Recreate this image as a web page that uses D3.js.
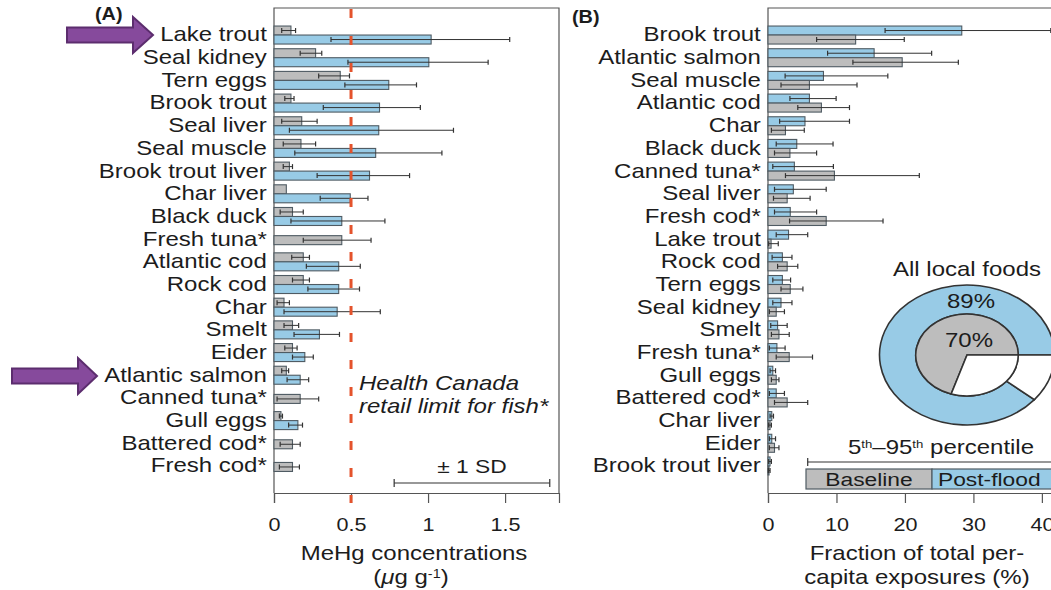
<!DOCTYPE html>
<html>
<head>
<meta charset="utf-8">
<script src="https://cdn.jsdelivr.net/npm/d3@7"></script>
<style>
  html, body { margin: 0; padding: 0; background: #fff; }
  svg { display: block; font-family: "Liberation Sans", Arial, sans-serif; }
</style>
</head>
<body>
<svg id="chart" width="1051" height="590"></svg>
<script>
// ---- Panel A: MeHg concentrations (µg/g) ----
const catsA = ["Lake trout", "Seal kidney", "Tern eggs", "Brook trout", "Seal liver", "Seal muscle",
  "Brook trout liver", "Char liver", "Black duck", "Fresh tuna*", "Atlantic cod", "Rock cod", "Char",
  "Smelt", "Eider", "Atlantic salmon", "Canned tuna*", "Gull eggs", "Battered cod*", "Fresh cod*"];
const baseA    = [0.11, 0.27, 0.43, 0.11, 0.18, 0.175, 0.10, 0.08, 0.12, 0.44, 0.19, 0.19, 0.065, 0.12, 0.12, 0.08, 0.17, 0.045, 0.12, 0.12];
const baseALo  = [0.05, 0.17, 0.29, 0.07, 0.05, 0.06, 0.06, null, 0.04, 0.19, 0.115, 0.12, 0.02, 0.065, 0.07, 0.05, 0.02, 0.035, 0.04, 0.035];
const baseAHi  = [0.14, 0.31, 0.49, 0.13, 0.28, 0.27, 0.12, null, 0.19, 0.63, 0.23, 0.23, 0.10, 0.16, 0.15, 0.095, 0.29, 0.055, 0.17, 0.165];
const postA    = [1.02, 1.005, 0.745, 0.685, 0.68, 0.66, 0.62, 0.495, 0.44, null, 0.42, 0.42, 0.41, 0.295, 0.20, 0.17, null, 0.155, null, null];
const postALo  = [0.37, 0.48, 0.46, 0.32, 0.10, 0.135, 0.28, 0.30, 0.11, null, 0.21, 0.22, 0.065, 0.13, 0.12, 0.085, null, 0.095, null, null];
const postAHi  = [1.53, 1.39, 0.925, 0.95, 1.165, 1.09, 0.88, 0.61, 0.72, null, 0.56, 0.555, 0.69, 0.425, 0.255, 0.225, null, 0.185, null, null];
const ticksA = [0, 0.5, 1, 1.5];
const tickLabelsA = ["0", "0.5", "1", "1.5"];
const limitA = 0.5;            // Health Canada retail limit for fish
const sdBracketA = [0.78, 1.79]; // extent of the "± 1 SD" key bar

// ---- Panel B: fraction of total per-capita exposure (%) ----
const catsB = ["Brook trout", "Atlantic salmon", "Seal muscle", "Atlantic cod", "Char", "Black duck",
  "Canned tuna*", "Seal liver", "Fresh cod*", "Lake trout", "Rock cod", "Tern eggs", "Seal kidney",
  "Smelt", "Fresh tuna*", "Gull eggs", "Battered cod*", "Char liver", "Eider", "Brook trout liver"];
const postB    = [28.3, 15.5, 8.1, 6.05, 5.4, 4.2, 3.85, 3.7, 3.25, 3.0, 2.1, 2.1, 1.9, 1.4, 1.3, 0.7, 1.2, 0.55, 0.55, 0.3];
const postBLo  = [17.1, 8.7, 2.5, 3.2, 1.7, 1.2, 0.7, 0.95, 0.95, 1.2, 0.6, 0.7, 0.7, 0.4, 0.2, 0.3, 0.2, 0.3, 0.2, 0.1];
const postBHi  = [41.3, 23.9, 17.5, 9.95, 11.9, 9.5, 9.55, 8.5, 7.1, 5.8, 3.5, 3.3, 3.5, 2.8, 2.5, 1.1, 2.4, 0.8, 1.1, 0.5];
const baseB    = [12.8, 19.6, 6.05, 7.8, 2.55, 3.2, 9.7, 2.8, 8.5, 0.45, 2.8, 3.25, 1.2, 1.6, 3.1, 1.2, 2.8, 0.3, 0.95, 0.15];
const baseBLo  = [7.1, 12.4, 1.9, 4.35, 0.5, 0.95, 2.55, 0.8, 3.15, 0.1, 1.4, 1.9, 0.2, 0.5, 1.2, 0.5, 0.95, 0.1, 0.2, 0.05];
const baseBHi  = [19.9, 27.8, 13.0, 11.9, 5.3, 7.1, 22.1, 6.15, 16.8, 1.5, 4.35, 5.1, 2.4, 3.1, 6.5, 1.6, 5.8, 0.5, 1.6, 0.3];
const ticksB = [0, 10, 20, 30, 40];
const tickLabelsB = ["0", "10", "20", "30", "40"];
const pctBracketB = [5.8, 45]; // extent of the "5th–95th percentile" key bar

// All local foods share of exposure
const allLocalBaseline = 70;
const allLocalPostFlood = 89;

// ---- styling ----
const SX = 1.2;               // horizontal text stretch
const BLUE = "#98cbe6", GRAY = "#bdbdbd", OUTLINE = "#4f5b63", INK = "#1c1c1c", LINE = "#555", RED = "#e4532c";

const svg = d3.select("#chart");

function text(parent, x, y, str, o = {}) {
  const t = parent.append("text")
    .attr("transform", `translate(${x},${y}) scale(${o.sx || SX},1)`)
    .attr("font-size", o.size || 20)
    .attr("fill", o.fill || INK)
    .attr("text-anchor", o.anchor || "start");
  if (o.italic) t.attr("font-style", "italic");
  if (o.bold) t.attr("font-weight", "bold");
  t.text(str);
  return t;
}

function panel(cfg) {
  const { cats, x, top, bottom, series, ticks, tickLabels, left, right } = cfg;
  const g = svg.append("g");
  const y = d3.scaleBand().domain(cats).range([23.7, 477.3]);
  const bw = y.bandwidth();
  const H = 9;

  // frame
  g.append("path")
    .attr("d", `M${left},${bottom}V${top}H${right}V${bottom}`)
    .attr("fill", "none").attr("stroke", LINE).attr("stroke-width", 1.2);

  // bars + error bars
  cats.forEach((c, i) => {
    const cy = y(c) + bw / 2;
    const present = series.filter(s => s.v[i] != null);
    present.forEach((s, k) => {
      let y0;
      if (present.length === 1) y0 = cy - 3.5;
      else y0 = k === 0 ? cy - H : cy;
      g.append("rect")
        .attr("x", x(0)).attr("y", y0)
        .attr("width", x(s.v[i]) - x(0)).attr("height", H)
        .attr("fill", s.color).attr("stroke", OUTLINE).attr("stroke-width", 1.1);
      if (s.lo[i] != null) {
        const ym = y0 + H / 2;
        g.append("line").attr("x1", x(s.lo[i])).attr("x2", x(s.hi[i]))
          .attr("y1", ym).attr("y2", ym).attr("stroke", "#333").attr("stroke-width", 1);
        [s.lo[i], s.hi[i]].forEach(v => g.append("line")
          .attr("x1", x(v)).attr("x2", x(v)).attr("y1", ym - 2.5).attr("y2", ym + 2.5)
          .attr("stroke", "#333").attr("stroke-width", 1.2));
      }
    });
  });

  // category labels
  const ya = g.append("g").attr("transform", `translate(${left},0)`)
    .call(d3.axisLeft(y).tickSize(0).tickPadding(6));
  ya.select(".domain").remove();
  ya.selectAll("text").attr("font-size", 20).attr("fill", INK)
    .attr("font-family", "Liberation Sans, Arial, sans-serif")
    .attr("transform", `scale(${SX},1)`);

  // x axis
  const xa = g.append("g").attr("transform", `translate(0,${bottom})`)
    .call(d3.axisBottom(x).tickValues(ticks).tickFormat((d, i) => tickLabels[i]).tickSize(10).tickPadding(15));
  xa.select(".domain").attr("stroke", LINE).attr("stroke-width", 1.2);
  xa.selectAll("line").attr("stroke", LINE).attr("stroke-width", 1.2);
  xa.selectAll("text").attr("font-size", 18).attr("fill", INK)
    .attr("font-family", "Liberation Sans, Arial, sans-serif")
    .attr("transform", `scale(${SX},1)`);
  return g;
}

// ---------- Panel A ----------
const xA = d3.scaleLinear().domain([0, 1.85]).range([274, 559]);
const gA = panel({
  cats: catsA, x: xA, top: 8, bottom: 493, left: 274, right: 559,
  ticks: ticksA, tickLabels: tickLabelsA,
  series: [
    { v: baseA, lo: baseALo, hi: baseAHi, color: GRAY },
    { v: postA, lo: postALo, hi: postAHi, color: BLUE }
  ]
});
// limit line
gA.append("line").attr("x1", xA(limitA)).attr("x2", xA(limitA)).attr("y1", 9).attr("y2", 503)
  .attr("stroke", RED).attr("stroke-width", 3).attr("stroke-dasharray", "9,18");
text(gA, 359, 390, "Health Canada", { italic: true });
text(gA, 359, 413, "retail limit for fish*", { italic: true });
// ± 1 SD key
gA.append("line").attr("x1", xA(sdBracketA[0])).attr("x2", xA(sdBracketA[1])).attr("y1", 483).attr("y2", 483)
  .attr("stroke", "#333").attr("stroke-width", 1.2);
sdBracketA.forEach(v => gA.append("line").attr("x1", xA(v)).attr("x2", xA(v)).attr("y1", 479).attr("y2", 487)
  .attr("stroke", "#333").attr("stroke-width", 1.2));
text(gA, 472, 473, "± 1 SD", { anchor: "middle", size: 19 });
text(gA, 414, 560, "MeHg concentrations", { anchor: "middle" });
const unitA = text(gA, 411, 584, "", { anchor: "middle" });
unitA.append("tspan").text("(");
unitA.append("tspan").attr("font-style", "italic").text("μ");
unitA.append("tspan").text("g g");
unitA.append("tspan").attr("font-size", 12).attr("baseline-shift", "super").text("-1");
unitA.append("tspan").text(")");
text(gA, 95, 20, "(A)", { bold: true, size: 18, sx: 1.1 });

// ---------- Panel B ----------
const xB = d3.scaleLinear().domain([0, 42.5]).range([768, 1059]);
const gB = panel({
  cats: catsB, x: xB, top: 8, bottom: 493, left: 768, right: 1062,
  ticks: ticksB, tickLabels: tickLabelsB,
  series: [
    { v: postB, lo: postBLo, hi: postBHi, color: BLUE },
    { v: baseB, lo: baseBLo, hi: baseBHi, color: GRAY }
  ]
});
text(gB, 572, 23, "(B)", { bold: true, size: 18, sx: 1.1 });
text(gB, 917, 560, "Fraction of total per-", { anchor: "middle" });
text(gB, 917, 584, "capita exposures (%)", { anchor: "middle" });

// donut: outer ring post-flood, inner pie baseline
text(gB, 967, 276, "All local foods", { anchor: "middle" });
const dg = gB.append("g").attr("transform", "translate(967,355) scale(1.25,1)");
const TAU = 2 * Math.PI, START = Math.PI / 2;
const arc = d3.arc();
const ringStart = START + (1 - allLocalPostFlood / 100) * TAU;
const pieStart = START + (1 - allLocalBaseline / 100) * TAU;
const ds = [
  { innerRadius: 41, outerRadius: 70, startAngle: ringStart, endAngle: START + TAU, fill: BLUE },
  { innerRadius: 41, outerRadius: 70, startAngle: START, endAngle: ringStart, fill: "#fff" },
  { innerRadius: 0, outerRadius: 41, startAngle: pieStart, endAngle: START + TAU, fill: GRAY },
  { innerRadius: 0, outerRadius: 41, startAngle: START, endAngle: pieStart, fill: "#fff" }
];
dg.selectAll("path").data(ds).join("path")
  .attr("d", d => arc(d)).attr("fill", d => d.fill)
  .attr("stroke", "#333").attr("stroke-width", 1.6).attr("vector-effect", "non-scaling-stroke");
text(gB, 971, 308, allLocalPostFlood + "%", { anchor: "middle" });
text(gB, 969, 347, allLocalBaseline + "%", { anchor: "middle" });

// percentile key
const pct = text(gB, 848, 454, "", { size: 20 });
pct.append("tspan").text("5");
pct.append("tspan").attr("font-size", 11).attr("baseline-shift", "super").text("th");
pct.append("tspan").text("–95");
pct.append("tspan").attr("font-size", 11).attr("baseline-shift", "super").text("th");
pct.append("tspan").text(" percentile");
gB.append("line").attr("x1", xB(pctBracketB[0])).attr("x2", xB(pctBracketB[1])).attr("y1", 462).attr("y2", 462)
  .attr("stroke", "#333").attr("stroke-width", 1.2);
gB.append("line").attr("x1", xB(pctBracketB[0])).attr("x2", xB(pctBracketB[0])).attr("y1", 458).attr("y2", 466)
  .attr("stroke", "#333").attr("stroke-width", 1.2);

// series key
gB.append("rect").attr("x", 806).attr("y", 469).attr("width", 126).attr("height", 20)
  .attr("fill", GRAY).attr("stroke", OUTLINE).attr("stroke-width", 1.2);
gB.append("rect").attr("x", 932).attr("y", 469).attr("width", 130).attr("height", 20)
  .attr("fill", BLUE).attr("stroke", OUTLINE).attr("stroke-width", 1.2);
text(gB, 869, 486, "Baseline", { anchor: "middle", size: 19 });
text(gB, 938, 486, "Post-flood", { size: 19 });

// ---------- highlight arrows ----------
function arrow(tipX, tipY, tailX, headLen, bodyHalf, headHalf) {
  const hb = tipX - headLen;
  const pts = [[tailX, tipY - bodyHalf], [hb, tipY - bodyHalf], [hb, tipY - headHalf], [tipX, tipY],
    [hb, tipY + headHalf], [hb, tipY + bodyHalf], [tailX, tipY + bodyHalf]];
  svg.append("polygon").attr("points", pts.map(p => p.join(",")).join(" "))
    .attr("fill", "#864a9c").attr("stroke", "#5c2d6e").attr("stroke-width", 2).attr("stroke-linejoin", "miter");
}
arrow(153, 35, 67, 20, 7.5, 18);
arrow(97, 376, 12, 19, 7.5, 18);
</script>
</body>
</html>
